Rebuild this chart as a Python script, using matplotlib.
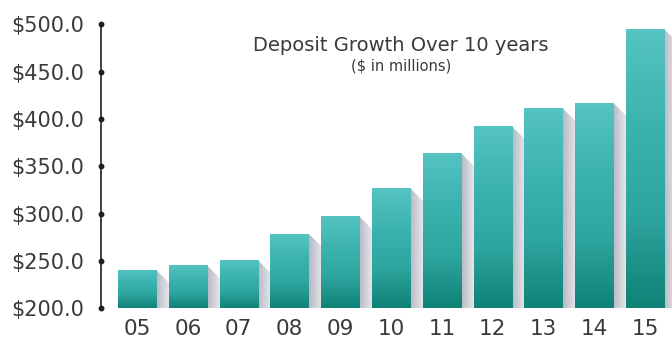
import numpy as np
import matplotlib
matplotlib.use('Agg')
import matplotlib.pyplot as plt
from matplotlib.colors import LinearSegmentedColormap
from matplotlib.patches import Polygon

years = ['05', '06', '07', '08', '09', '10', '11', '12', '13', '14', '15']
deposits = [240.5, 245.5, 251.0, 279.0, 297.0, 327.0, 364.0, 392.5, 411.5, 417.0, 495.0]
yticks = [200, 250, 300, 350, 400, 450, 500]

plt.rcParams['font.family'] = ['DejaVu Sans']

W, H = 672, 343
fig = plt.figure(figsize=(W / 100, H / 100), dpi=100)
ax = fig.add_axes([101 / W, (H - 308.3) / H, (W - 101) / W, (308.3 - 24.3) / H])

x = np.arange(len(years))
bw = 0.75
ax.set_xlim(-0.71, 10.53)
ax.set_ylim(200, 500)

bar_cmap = LinearSegmentedColormap.from_list('teal', ['#0f8276', '#2ea59f', '#3db3af', '#55c4c3'])
shadow_cmap = LinearSegmentedColormap.from_list('shd', ['#b8b9c3', '#d6d7de', '#f2f2f5'])

bars = ax.bar(x, [d - 200 for d in deposits], bottom=200, width=bw,
              color='none', edgecolor='none', zorder=3)

# shadow offsets in data units (about 16 px down/right)
dx = 16 / 50.8
dy = 16 / (284 / 300)

for b, v in zip(bars, deposits):
    x0 = b.get_x()
    x1 = x0 + b.get_width()
    # diagonal shadow to the right
    poly = Polygon([(x1, v), (x1 + dx, v - dy), (x1 + dx, 200), (x1, 200)],
                   closed=True, facecolor='none', edgecolor='none', zorder=1)
    ax.add_patch(poly)
    grad = np.linspace(0, 1, 64).reshape(1, -1)
    im = ax.imshow(grad, cmap=shadow_cmap, aspect='auto',
                   extent=[x1, x1 + dx, 200, v], zorder=1)
    im.set_clip_path(poly)
    # vertical gradient bar
    vgrad = np.linspace(0, 1, 128).reshape(-1, 1)
    im2 = ax.imshow(vgrad, cmap=bar_cmap, aspect='auto', origin='lower',
                    extent=[x0, x1, 200, v], zorder=3)
    im2.set_clip_path(b)

# axis styling
for s in ['top', 'right', 'bottom']:
    ax.spines[s].set_visible(False)
ax.spines['left'].set_color('#231f20')
ax.spines['left'].set_linewidth(1.2)
ax.set_yticks(yticks)
ax.set_yticklabels(['${:.1f}'.format(t) for t in yticks], fontsize=15, color='#3a3a3a')
ax.tick_params(axis='y', length=0, pad=12)
ax.plot(np.full(len(yticks), -0.71), yticks, 'o', color='#231f20', ms=3.2,
        clip_on=False, zorder=5)
ax.set_xticks(x)
ax.set_xticklabels(years, fontsize=15.5, color='#3a3a3a')
ax.tick_params(axis='x', length=0, pad=8)

ax.text(0.525, 0.927, 'Deposit Growth Over 10 years', transform=ax.transAxes,
        ha='center', va='center', fontsize=14, color='#3a3a3a')
ax.text(0.525, 0.853, '($ in millions)', transform=ax.transAxes,
        ha='center', va='center', fontsize=10.5, color='#3a3a3a')

fig.savefig('out.png', dpi=100)
